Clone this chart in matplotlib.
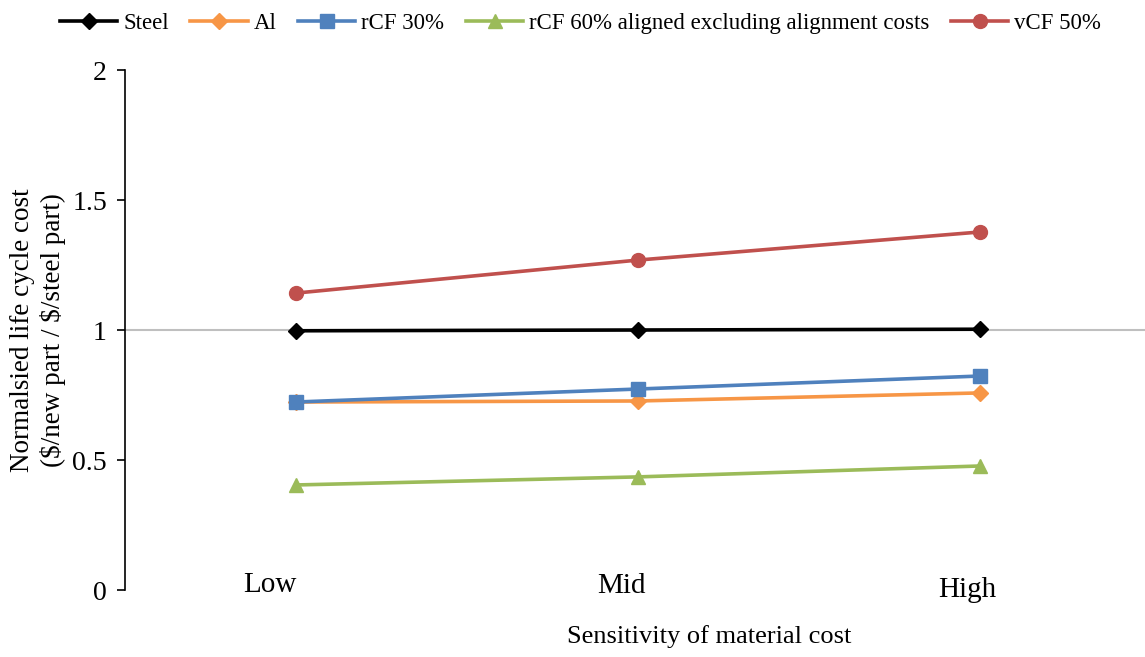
import matplotlib
matplotlib.use("Agg")
import matplotlib.pyplot as plt

plt.rcParams['font.family'] = ['Liberation Serif', 'DejaVu Serif']

levels = ['Low', 'Mid', 'High']
steel = [0.997, 1.000, 1.003]
al = [0.723, 0.727, 0.758]
rcf30 = [0.723, 0.773, 0.823]
rcf60 = [0.404, 0.435, 0.477]
vcf50 = [1.142, 1.269, 1.377]

series = [
    ('Steel', steel, '#000000', 'D'),
    ('Al', al, '#F79646', 'D'),
    ('rCF 30%', rcf30, '#4F81BD', 's'),
    ('rCF 60% aligned excluding alignment costs', rcf60, '#9BBB59', '^'),
    ('vCF 50%', vcf50, '#C0504D', 'o'),
]

fig = plt.figure(figsize=(11.45, 6.57), dpi=100)
ax = fig.add_axes([125 / 1145, 67 / 657, 1026 / 1145, 520 / 657])

# horizontal axis crosses at 1
ax.axhline(1, color='#BFBFBF', lw=1.5, zorder=1)

x = range(len(levels))
for name, vals, col, mk in series:
    ms = 8.5 if mk == 'D' else 10
    ax.plot(x, vals, color=col, marker=mk, ms=ms, lw=2.6, label=name,
            markeredgecolor=col, zorder=3)

ax.set_xlim(-0.5, 2.5)
ax.set_ylim(0, 2)
ax.set_yticks([0, 0.5, 1, 1.5, 2])
ax.set_yticklabels(['0', '0.5', '1', '1.5', '2'])
ax.tick_params(axis='y', direction='out', length=6, width=1.2, labelsize=20, pad=7)
ax.set_xticks([])
for s in ['top', 'right', 'bottom']:
    ax.spines[s].set_visible(False)
ax.spines['left'].set_linewidth(1.2)

# category labels sit just above the bottom of the plot
offsets = [-0.075, -0.047, -0.038]
heights = [0.02, 0.016, 0.0]
for i, lab in enumerate(levels):
    ax.text(i + offsets[i], heights[i], lab, ha='center', va='center', fontsize=21)

fig.text(709 / 1145, 1 - 637 / 657, 'Sensitivity of material cost',
         ha='center', va='center', fontsize=19)
fig.text(38 / 1145, 0.497, 'Normalsied life cycle cost\n(\\$/new part / \\$/steel part)',
         ha='center', va='center', rotation=90, fontsize=19.5, linespacing=1.25)

fig.legend(loc='upper center', bbox_to_anchor=(0.507, 1.012), ncol=5, frameon=False,
           fontsize=16.5, handlelength=2.5, columnspacing=0.95, handletextpad=0.25)

fig.savefig('out.png', dpi=100)
